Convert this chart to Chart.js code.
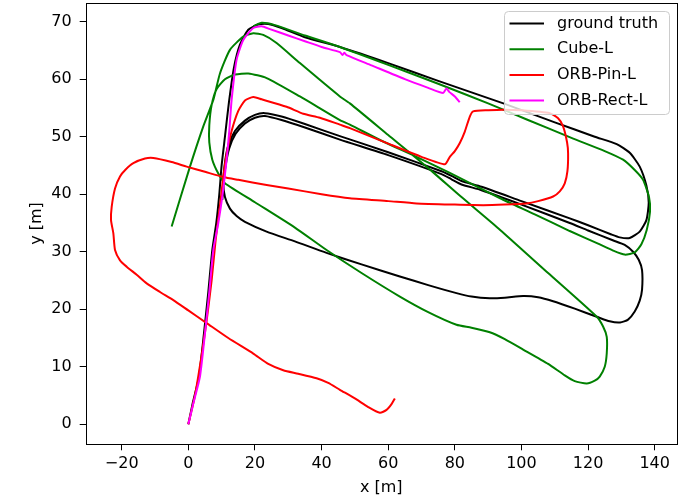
<!DOCTYPE html>
<html>
<head>
<meta charset="utf-8">
<script src="https://cdn.jsdelivr.net/npm/chart.js@4.4.0/dist/chart.umd.min.js"></script>
<style>
  html, body { margin: 0; padding: 0; background: #fff; }
  #wrap { width: 680px; height: 498px; }
</style>
</head>
<body>
<div id="wrap"><canvas id="traj" width="680" height="498"></canvas></div>
<script>
// series names (legend order)
const seriesNames = ['ground truth', 'Cube-L', 'ORB-Pin-L', 'ORB-Rect-L'];

// axis ticks
const xTicks = [-20, 0, 20, 40, 60, 80, 100, 120, 140];
const yTicks = [0, 10, 20, 30, 40, 50, 60, 70];

// ground truth
const gtX = [0, 1.3, 3.2, 4.7, 6, 7.2, 8.4, 9.3, 10, 11, 12.2, 13.7, 15.5, 18, 21, 24, 28, 35, 45.5, 60, 75, 95, 110, 122, 128.6, 132.5, 135.5, 137.5, 138.2, 137.5, 135.5, 132.5, 129.5, 127, 120, 114.5, 100, 88, 82, 79, 76, 60, 45.5, 35, 28, 23, 20, 17, 14, 12, 11, 10.5, 11, 12.5, 14.5, 17, 23.5, 32, 41.5, 52, 63.5, 72, 80.5, 85, 90.5, 95, 100.5, 105, 109.5, 116, 122.6, 126.5, 129.6, 132, 134, 135.5, 136.2, 136.2, 135.2, 133.5, 131, 127.4, 120, 114.5, 100, 88, 82, 79, 76, 60, 45.5, 35, 28, 23, 20, 17, 14.2, 12.3, 11.2, 10.6, 10.2];
const gtY = [0, 3.6, 8.3, 15.8, 23, 30.3, 35, 40, 45, 50, 56, 62, 66, 68.6, 69.5, 69.6, 68.9, 67.3, 65.6, 62.8, 59.7, 55.7, 52.5, 50, 48.7, 47.2, 44.8, 41.5, 38.5, 35.5, 33.5, 32.4, 32.5, 33, 34.6, 35.8, 38.8, 41.3, 42.3, 43.2, 44, 47.3, 50.1, 52.2, 53.5, 54.1, 53.8, 52.8, 51, 48.5, 45.5, 42, 39.5, 37.5, 36.2, 35.2, 33.5, 31.8, 29.8, 27.8, 25.7, 24.2, 22.8, 22.2, 21.9, 22, 22.3, 22.1, 21.4, 20.1, 18.7, 17.9, 17.7, 18.2, 19.6, 21.5, 23.4, 26.8, 28.6, 30, 31.2, 32, 33.7, 35, 38.2, 40.7, 41.7, 42.6, 43.5, 46.8, 49.5, 51.6, 52.9, 53.6, 53.3, 52.3, 50.5, 48, 45, 42, 39];

// Cube-L
const cubeX = [-5, 0.5, 4.5, 7.5, 9.5, 12.5, 16.5, 19.5, 22.5, 26.5, 33.5, 45.5, 48.5, 60, 71.5, 82, 93.6, 108, 122.6, 124.5, 125.6, 125.6, 125, 123.5, 122, 119.6, 116, 113, 108, 100.5, 95, 90.5, 85, 80.5, 72, 63.5, 52, 41.5, 32, 20, 11, 9, 7.2, 6.3, 6.3, 7, 8.5, 11, 14, 18, 23.5, 33.5, 45.5, 48.5, 58, 68.5, 78.5, 93.6, 104, 114.5, 123, 127.5, 131, 134, 136, 137.6, 138.6, 138.3, 136.5, 134, 130.5, 125, 115, 101.6, 90, 75, 60, 45.5, 35, 26, 22, 19.5];
const cubeY = [34.4, 44.8, 51.8, 56.4, 61, 65.1, 67.4, 68, 67.7, 66.3, 62.8, 57, 55.8, 50.3, 44.8, 39.5, 33.8, 26.3, 18.7, 17, 15.2, 12.3, 10, 8.3, 7.6, 7.1, 7.5, 8.5, 10.5, 13, 14.8, 16, 16.8, 17.3, 19.5, 22.2, 26.3, 30.3, 34.2, 38.6, 41.9, 43.6, 46, 49, 52, 55.5, 58.3, 60, 60.8, 61, 60.2, 57, 52.9, 52.1, 49.3, 46.5, 43.7, 39.3, 36.5, 33.6, 31.4, 30.2, 29.5, 29.9, 31.3, 33.8, 37, 39.5, 42.5, 44.2, 46, 47.5, 49.8, 53, 55.8, 59.2, 62.5, 65.6, 67.6, 69.4, 69.8, 69.2];

// ORB-Pin-L
const pinX = [0, 2, 4, 5.5, 7, 8.2, 9.5, 10.5, 11.5, 13, 15, 17, 19.5, 22, 29.5, 34.5, 39.5, 45.5, 48.5, 60, 70, 77, 78.5, 80, 81.5, 83, 84.5, 85.5, 90, 94.5, 100, 108.5, 111, 112.5, 113.7, 114, 113.8, 113, 111.5, 109.5, 105, 101.5, 95, 88.5, 80, 68.5, 60, 48.5, 40, 30, 23.5, 15, 10.5, 5, -0.5, -5, -10.5, -13, -16.5, -18.8, -20.5, -22, -23, -23.2, -22.5, -22, -20.5, -18.5, -15.5, -12.5, -8.5, -4.5, 0, 5.5, 12, 19.5, 24, 28.5, 33, 38.5, 42, 45.5, 50, 54, 57.5, 59.5, 61, 62];
const pinY = [0, 5, 12, 18, 25, 32, 38, 43, 47, 51, 54.5, 56.3, 56.9, 56.5, 55.2, 54, 53.3, 52.1, 51.5, 48.8, 46.5, 45.2, 46.5, 47.5, 48.9, 50.9, 53.5, 54.4, 54.6, 54.7, 54.6, 54.1, 53.2, 51.8, 49, 47.1, 44, 41.9, 40.5, 39.6, 38.8, 38.4, 38.2, 38.1, 38.2, 38.4, 38.8, 39.3, 40, 41, 41.6, 42.5, 43, 43.9, 44.8, 45.6, 46.3, 46.2, 45.4, 44.3, 43.1, 41, 37.8, 35.5, 33.2, 30.3, 28.5, 27.4, 26, 24.5, 23, 21.6, 19.8, 17.6, 15, 12.3, 10.5, 9.4, 8.8, 8, 7.2, 6, 4.5, 3, 2, 2.5, 3.5, 4.5];

// ORB-Rect-L
const rectX = [0, 1.5, 3.5, 5, 6.3, 7.5, 9, 10.3, 11.5, 12.3, 13, 14.5, 16.5, 19.5, 22, 24.5, 30, 35, 40, 45.5, 46.3, 46.8, 47.5, 55, 65, 72, 76.5, 77.5, 78.3, 80, 81.5];
const rectY = [0, 3.6, 8.3, 15.8, 23, 30.3, 35, 40, 46, 51, 56.4, 63.4, 66.8, 68.9, 69.2, 68.7, 67.6, 66.6, 65.6, 64.7, 64.2, 64.6, 64.2, 62.4, 60, 58.5, 57.6, 58.4, 57.8, 57, 56];

const seriesX = [gtX, cubeX, pinX, rectX];
const seriesY = [gtY, cubeY, pinY, rectY];
const seriesColors = ['#000000', '#008000', '#ff0000', '#ff00ff'];

const FONT = 'DejaVu Sans';

const datasets = seriesNames.map((name, i) => ({
  label: name,
  data: seriesX[i].map((x, k) => ({ x: x, y: seriesY[i][k] })),
  showLine: true,
  borderColor: seriesColors[i],
  backgroundColor: seriesColors[i],
  borderWidth: 2,
  pointRadius: 0,
  tension: 0.2,
  fill: false,
  order: seriesNames.length - i
}));

// full box around the axes, like matplotlib spines
const framePlugin = {
  id: 'frame',
  afterDatasetsDraw(chart) {
    const { ctx, chartArea: a } = chart;
    ctx.save();
    ctx.strokeStyle = '#000';
    ctx.lineWidth = 1;
    ctx.strokeRect(Math.round(a.left) + 0.5, Math.round(a.top) + 0.5,
      Math.round(a.right) - Math.round(a.left), Math.round(a.bottom) - Math.round(a.top));
    ctx.restore();
  }
};

// legend box in the upper right corner
const legendPlugin = {
  id: 'boxLegend',
  afterDraw(chart) {
    const ctx = chart.ctx;
    const x0 = 504.5, y0 = 11.5, w = 165, h = 103, r = 4;
    ctx.save();
    ctx.beginPath();
    ctx.moveTo(x0 + r, y0);
    ctx.lineTo(x0 + w - r, y0);
    ctx.quadraticCurveTo(x0 + w, y0, x0 + w, y0 + r);
    ctx.lineTo(x0 + w, y0 + h - r);
    ctx.quadraticCurveTo(x0 + w, y0 + h, x0 + w - r, y0 + h);
    ctx.lineTo(x0 + r, y0 + h);
    ctx.quadraticCurveTo(x0, y0 + h, x0, y0 + h - r);
    ctx.lineTo(x0, y0 + r);
    ctx.quadraticCurveTo(x0, y0, x0 + r, y0);
    ctx.closePath();
    ctx.fillStyle = 'rgba(255,255,255,0.8)';
    ctx.fill();
    ctx.strokeStyle = '#cccccc';
    ctx.lineWidth = 1;
    ctx.stroke();

    ctx.font = '16px "' + FONT + '"';
    ctx.textBaseline = 'middle';
    ctx.textAlign = 'left';
    seriesNames.forEach((name, i) => {
      const y = 23.5 + i * 25.7;
      ctx.strokeStyle = seriesColors[i];
      ctx.lineWidth = 2;
      ctx.beginPath();
      ctx.moveTo(509.5, y);
      ctx.lineTo(544, y);
      ctx.stroke();
      ctx.fillStyle = '#000';
      ctx.fillText(name, 557, y);
    });
    ctx.restore();
  }
};

const minusSign = v => String(v).replace('-', '\u2212');

new Chart(document.getElementById('traj'), {
  type: 'scatter',
  data: { datasets },
  options: {
    responsive: false,
    animation: false,
    layout: { padding: { left: 0, top: 2.7, right: 3.3, bottom: 0 } },
    plugins: {
      legend: { display: false },
      tooltip: { enabled: false }
    },
    scales: {
      x: {
        type: 'linear',
        min: -30.8,
        max: 146.6,
        afterBuildTicks: s => { s.ticks = xTicks.map(v => ({ value: v })); },
        afterFit: s => {
          s.height = 498 - 444.3;
          s.paddingLeft = 0;
          s.paddingRight = 0;
        },
        ticks: {
          color: '#000',
          font: { family: FONT, size: 16 },
          padding: 4,
          maxRotation: 0,
          callback: v => minusSign(v)
        },
        grid: { drawOnChartArea: false, drawTicks: true, tickLength: 6, tickColor: '#000' },
        border: { display: false },
        title: {
          display: true,
          text: 'x [m]',
          color: '#000',
          font: { family: FONT, size: 16 },
          padding: { top: 0, bottom: 1 }
        }
      },
      y: {
        type: 'linear',
        min: -3.48,
        max: 73.3,
        afterBuildTicks: s => { s.ticks = yTicks.map(v => ({ value: v })); },
        afterFit: s => {
          s.width = 85.7;
          s.paddingTop = 0;
          s.paddingBottom = 0;
        },
        ticks: {
          color: '#000',
          font: { family: FONT, size: 16 },
          padding: 8,
          callback: v => minusSign(v)
        },
        grid: { drawOnChartArea: false, drawTicks: true, tickLength: 6, tickColor: '#000' },
        border: { display: false },
        title: {
          display: true,
          text: 'y [m]',
          color: '#000',
          font: { family: FONT, size: 16 },
          padding: { top: 27.4, bottom: 0 }
        }
      }
    }
  },
  plugins: [framePlugin, legendPlugin]
});
</script>
</body>
</html>
